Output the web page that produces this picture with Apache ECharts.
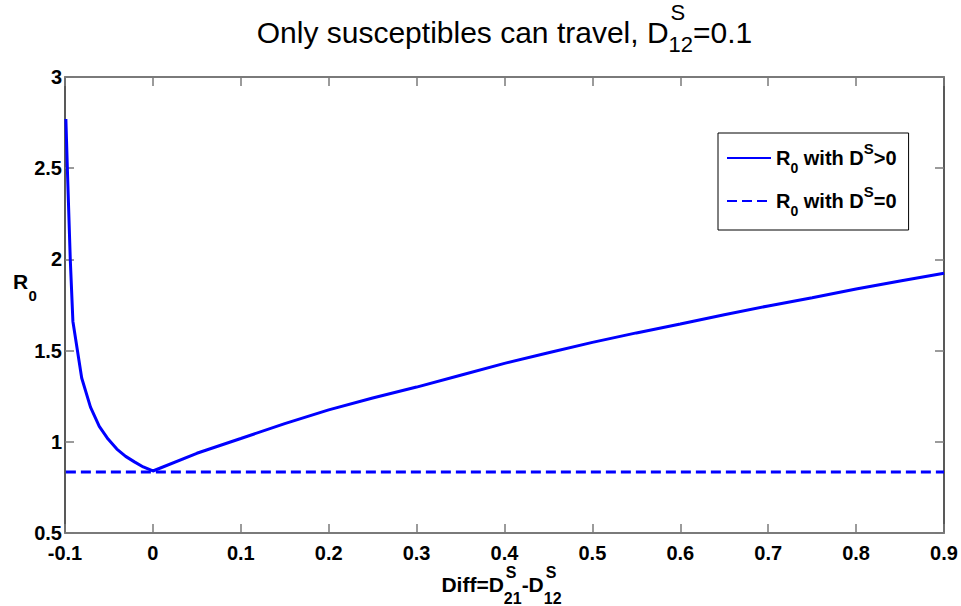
<!DOCTYPE html>
<html>
<head>
<meta charset="utf-8">
<script src="https://cdn.jsdelivr.net/npm/echarts@6/dist/echarts.min.js"></script>
<style>
html,body{margin:0;padding:0;background:#fff;}
#chart{width:961px;height:606px;}
</style>
</head>
<body>
<div id="chart"></div>
<script>
// ---- data ----
const diffValues = [-0.099, -0.097, -0.094, -0.091, -0.081, -0.071, -0.061, -0.051, -0.041, -0.031, -0.021, -0.011, 0,
  0.05, 0.1, 0.15, 0.2, 0.25, 0.3, 0.35, 0.4, 0.45, 0.5, 0.55, 0.6, 0.65, 0.7, 0.75, 0.8, 0.85, 0.9];
const r0WithTravel = [2.77, 2.45, 2.0, 1.66, 1.35, 1.19, 1.085, 1.015, 0.96, 0.92, 0.89, 0.862, 0.84,
  0.937, 1.018, 1.10, 1.175, 1.24, 1.30, 1.365, 1.43, 1.488, 1.545, 1.597, 1.646, 1.697, 1.745, 1.79, 1.838, 1.882, 1.924];
const diffRangeNoTravel = [-0.099, 0.9];
const r0NoTravel = [0.835, 0.835];
const seriesNames = ['R0 with DS>0', 'R0 with DS=0'];
const xTicks = { min: -0.1, max: 0.9, step: 0.1 };
const yTicks = { min: 0.5, max: 3, step: 0.5 };

const FONT = 'Liberation Sans, Arial, Helvetica, sans-serif';
const chart = echarts.init(document.getElementById('chart'), null, { renderer: 'svg' });

// text measuring for composing super/subscript labels
const mctx = document.createElement('canvas').getContext('2d');
function tw(text, size, weight) {
  mctx.font = (weight || 'normal') + ' ' + size + 'px ' + FONT;
  return mctx.measureText(text).width;
}
function composed(pieces, centerX, baseY) {
  const out = [];
  const widths = [];
  let total = 0;
  for (let i = 0; i < pieces.length; i++) {
    const p = pieces[i];
    const w = tw(p.t, p.size, p.weight);
    if (p.stack) {
      const q = pieces[i + 1];
      const w2 = tw(q.t, q.size, q.weight);
      widths.push([w, w2]);
      total += Math.max(w, w2);
      i++;
    } else {
      widths.push([w]);
      total += w;
    }
  }
  let x = centerX - total / 2;
  let k = 0;
  const mk = (pp, xx) => ({
    type: 'text', x: xx, y: baseY + pp.dy, silent: true,
    style: { text: pp.t, fontSize: pp.size, fontWeight: pp.weight || 'normal', fontFamily: FONT,
      fill: '#000', align: 'left', verticalAlign: 'middle' }
  });
  for (let i = 0; i < pieces.length; i++) {
    const p = pieces[i];
    const wp = widths[k++];
    if (p.stack) {
      const q = pieces[i + 1];
      out.push(mk(p, x + (p.ox || 0)));
      out.push(mk(q, x + (q.ox || 0)));
      x += Math.max(wp[0], wp[1]);
      i++;
    } else {
      out.push(mk(p, x));
      x += wp[0];
    }
  }
  return out;
}

const plotCenterX = (65 + 944) / 2;
const titleEls = composed([
  { t: 'Only susceptibles can travel, D', size: 30, dy: 0 },
  { t: 'S', size: 22, dy: -20, stack: true, ox: 2 },
  { t: '12', size: 22, dy: 12 },
  { t: '=0.1', size: 30, dy: 0 }
], plotCenterX, 32);

const xNameEls = composed([
  { t: 'Diff=D', size: 21, weight: 'bold', dy: 0 },
  { t: 'S', size: 16, weight: 'bold', dy: -12, stack: true, ox: 2 },
  { t: '21', size: 16, weight: 'bold', dy: 14 },
  { t: '-D', size: 21, weight: 'bold', dy: 0 },
  { t: 'S', size: 16, weight: 'bold', dy: -12, stack: true, ox: 2 },
  { t: '12', size: 16, weight: 'bold', dy: 14 }
], plotCenterX - 3, 584);

const yNameEls = [
  { type: 'text', x: 13, y: 281, silent: true,
    style: { text: 'R', fontSize: 21, fontWeight: 'bold', fontFamily: FONT, fill: '#000', align: 'left', verticalAlign: 'middle' } },
  { type: 'text', x: 28.5, y: 295, silent: true,
    style: { text: '0', fontSize: 15, fontWeight: 'bold', fontFamily: FONT, fill: '#000', align: 'left', verticalAlign: 'middle' } }
];

const legendRich = {
  b: { fontSize: 20, fontWeight: 'bold', fontFamily: FONT, color: '#000', lineHeight: 34 },
  sub: { fontSize: 14, fontWeight: 'bold', fontFamily: FONT, color: '#000', verticalAlign: 'bottom' },
  sup: { fontSize: 15, fontWeight: 'bold', fontFamily: FONT, color: '#000', verticalAlign: 'top' }
};
function legendFmt(name) {
  const tail = name.slice(name.indexOf('DS') + 2);
  return '{b|R}{sub|0}{b| with D}{sup|S}{b|' + tail + '}';
}

const axisX = (pos, showLabel) => ({
  type: 'value', position: pos, min: xTicks.min, max: xTicks.max, interval: xTicks.step,
  axisLine: { show: true, onZero: false, lineStyle: { color: '#7a7a7a', width: 2 } },
  axisTick: { show: true, inside: true, length: 9, lineStyle: { color: '#7a7a7a', width: 1.5 } },
  axisLabel: { show: showLabel, fontSize: 20, fontWeight: 'bold', fontFamily: FONT, color: '#000', margin: 10,
    showMinLabel: true, showMaxLabel: true,
    formatter: v => String(+v.toFixed(1)) },
  splitLine: { show: false }
});
const axisY = (pos, showLabel) => ({
  type: 'value', position: pos, min: yTicks.min, max: yTicks.max, interval: yTicks.step,
  axisLine: { show: true, onZero: false, lineStyle: { color: '#222', width: 1.5 } },
  axisTick: { show: true, inside: true, length: 9, lineStyle: { color: '#7a7a7a', width: 1.5 } },
  axisLabel: { show: showLabel, fontSize: 20, fontWeight: 'bold', fontFamily: FONT, color: '#000', margin: 3,
    showMinLabel: true, showMaxLabel: true,
    formatter: v => String(+v.toFixed(1)) },
  splitLine: { show: false }
});

chart.setOption({
  animation: false,
  backgroundColor: '#fff',
  grid: { left: 65, right: 17, top: 77, bottom: 73, containLabel: false },
  xAxis: [axisX('bottom', true), axisX('top', false)],
  yAxis: [axisY('left', true), axisY('right', false)],
  legend: {
    orient: 'vertical', left: 718, top: 133,
    padding: [8, 12, 12, 8], itemGap: 9, itemWidth: 44, itemHeight: 14,
    backgroundColor: '#fff', borderColor: '#000', borderWidth: 1,
    itemStyle: { opacity: 0 },
    data: seriesNames,
    formatter: legendFmt,
    textStyle: { rich: legendRich }
  },
  series: [
    {
      name: seriesNames[0], type: 'line', xAxisIndex: 0, yAxisIndex: 0,
      data: diffValues.map((x, i) => [x, r0WithTravel[i]]),
      showSymbol: false, symbol: 'none',
      lineStyle: { color: '#0000ff', width: 3 }, itemStyle: { color: '#0000ff' }
    },
    {
      name: seriesNames[1], type: 'line', xAxisIndex: 0, yAxisIndex: 0,
      data: diffRangeNoTravel.map((x, i) => [x, r0NoTravel[i]]),
      showSymbol: false, symbol: 'none',
      lineStyle: { color: '#0000ff', width: 3, type: [10, 5] }, itemStyle: { color: '#0000ff' }
    }
  ],
  graphic: { elements: [].concat(titleEls, xNameEls, yNameEls) }
});
</script>
</body>
</html>
